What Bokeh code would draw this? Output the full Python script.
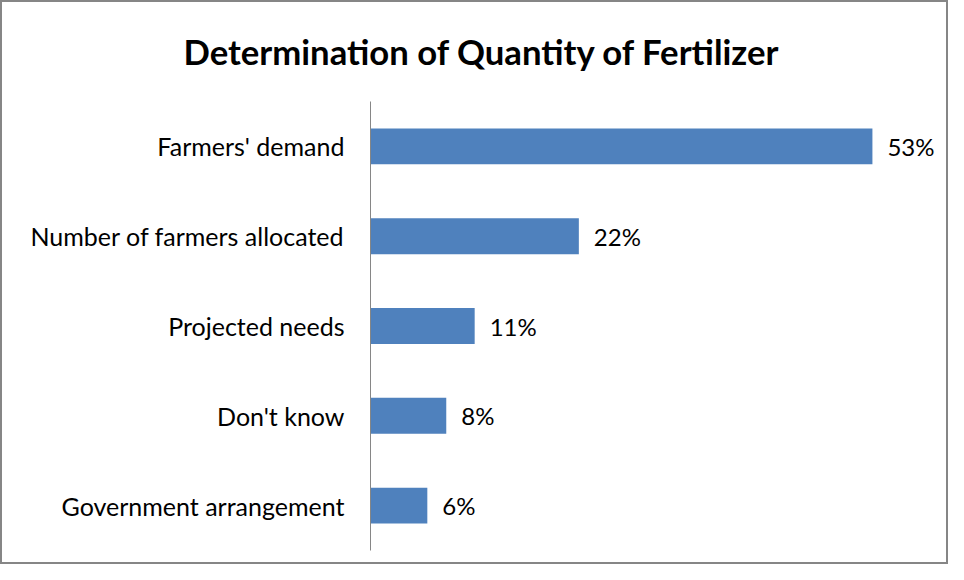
from bokeh.plotting import figure
from bokeh.models import ColumnDataSource, FactorRange, Range1d
from bokeh.embed import file_html
from bokeh.resources import INLINE
from bokeh.core.properties import value

title_text = "Determination of Quantity of Fertilizer"
categories = ["Farmers' demand", "Number of farmers allocated", "Projected needs",
              "Don't know", "Government arrangement"]
percents = [53, 22, 11, 8, 6]
labels = [f"{v}%" for v in percents]

src = ColumnDataSource(dict(cat=categories, val=percents, lab=labels))

p = figure(width=948, height=564, output_backend="svg", toolbar_location=None,
           y_range=FactorRange(*reversed(categories)), x_range=Range1d(0, 60.4),
           min_border_left=368, min_border_right=8, min_border_top=98, min_border_bottom=16)

p.title.text = title_text
p.title.align = "left"
p.title.offset = -187
p.title.standoff = 56
p.title.vertical_align = "top"
p.title.text_font = "Lato"
p.title.text_font_style = "bold"
p.title.text_font_size = "34.7px"
p.title.text_color = "black"

p.hbar(y="cat", right="val", left=0, height=0.4, source=src, color="#4F81BD", line_color=None)
p.text(x="val", y="cat", text="lab", source=src, x_offset=15, text_baseline="middle",
       text_align="left", text_font=value("Lato"), text_font_size="24px", text_color="black")

p.xaxis.visible = False
p.xgrid.visible = False
p.ygrid.visible = False
p.outline_line_color = None
p.yaxis.axis_line_color = "#868686"
p.yaxis.major_tick_line_color = None
p.yaxis.minor_tick_line_color = None
p.yaxis.major_tick_in = 0
p.yaxis.major_tick_out = 0
p.yaxis.major_label_standoff = 26
p.yaxis.major_label_text_font = "Lato"
p.yaxis.major_label_text_font_size = "25px"
p.yaxis.major_label_text_color = "black"
p.styles = {"border": "2px solid #868686", "box-sizing": "border-box"}

open("out.html", "w").write(file_html(p, INLINE))
